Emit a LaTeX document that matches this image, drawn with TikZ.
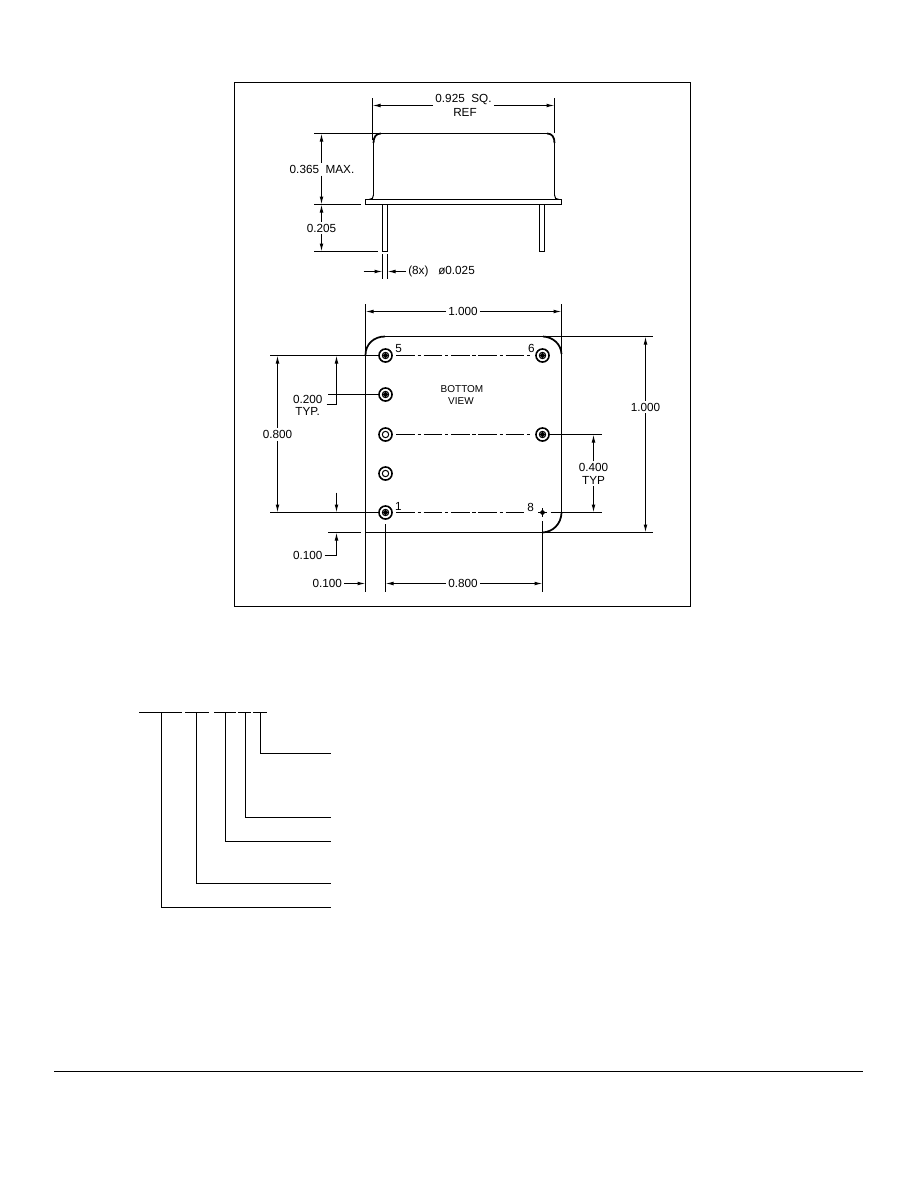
\documentclass[tikz,border=0pt]{standalone}
\usepackage{fontspec}
\setmainfont{Liberation Sans}
\usetikzlibrary{arrows.meta,shapes.geometric}
\tikzset{
  outline/.style={line width=0.75pt},
  cornerline/.style={line width=1.3pt},
  dimline/.style={line width=0.75pt,-{Latex[length=6pt,width=2.8pt]}},
  centreline/.style={line width=0.75pt,dash pattern=on 14pt off 2pt on 2.5pt off 2pt,shorten <=2.5pt,shorten >=2.5pt},
  dimtext/.style={inner sep=1.5pt,font=\fontsize{8.8}{10}\selectfont},
  viewtext/.style={inner sep=1.5pt,font=\fontsize{7.5}{9}\selectfont},
  pinring/.style={circle,draw,line width=1.2pt,inner sep=0pt,minimum size=9.8pt},
  pinhole/.style={circle,draw,line width=0.75pt,inner sep=0pt,minimum size=4.8pt},
  pinfill/.style={diamond,fill,inner sep=0pt,minimum size=4.4pt},
}
\begin{document}
\begin{tikzpicture}[x=0.75pt,y=0.75pt,yscale=-1,xscale=1]
\useasboundingbox (0,0) rectangle (918,1188);
%Shape: Frame
\draw [outline] (234.5,82.5) rectangle (690.5,606.5);
%Shape: Rule
\draw [outline] (54,1071.5) -- (863,1071.5);

%Shape: Side view body
\draw [outline] (373.5,195) -- (373.5,143) (381,133.5) -- (547,133.5) (554.5,143) -- (554.5,195);
\draw [cornerline] (373.5,143) .. controls (373.5,137) and (376,133.5) .. (381,133.5);
\draw [cornerline] (547,133.5) .. controls (552,133.5) and (554.5,137) .. (554.5,143);
\draw [outline] (373.5,195) .. controls (373.5,198) and (372,199.5) .. (369,199.5);
\draw [outline] (554.5,195) .. controls (554.5,198) and (556,199.5) .. (559,199.5);
\draw [outline] (365.5,199.5) rectangle (561.5,204.5);
\draw [outline] (382.5,204.5) rectangle (387.5,251.5);
\draw [outline] (539.5,204.5) rectangle (544.5,251.5);

%Shape: Side view extension lines
\draw [outline] (372.5,98) -- (372.5,140);
\draw [outline] (554.5,98) -- (554.5,133);
\draw [outline] (314,133.5) -- (381,133.5);
\draw [outline] (314,204.5) -- (361,204.5);
\draw [outline] (314,251.5) -- (378,251.5);
\draw [outline] (382.5,254) -- (382.5,279);
\draw [outline] (387.5,254) -- (387.5,279);

% Text Node
\node [dimtext] (d925) at (463.5,100) {0.925\ \ SQ.};
\node [dimtext] (d925b) at (465,112) {REF};
\node [dimtext] (d365) at (322,169.3) {0.365\ \ MAX.};
\node [dimtext] (d205) at (321.5,228) {0.205};
\node [dimtext,anchor=west] (d025) at (406,271) {(8x)\ \ \ ø0.025};
\coordinate (a925l) at (372.5,105.5);
\coordinate (a925r) at (554.5,105.5);
\coordinate (a365t) at (321.5,133.5);
\coordinate (a365b) at (321.5,204.5);
\coordinate (a205t) at (321.5,204.5);
\coordinate (a205b) at (321.5,251.5);
\coordinate (a025l) at (363.5,271.5);
\coordinate (a025m) at (382.5,271.5);
\coordinate (a025r) at (387.5,271.5);
\draw [dimline] (d925.west |- a925l) -- (a925l);
\draw [dimline] (d925.east |- a925r) -- (a925r);
\draw [dimline] (d365.north -| a365t) -- (a365t);
\draw [dimline] (d365.south -| a365b) -- (a365b);
\draw [dimline] (d205.north -| a205t) -- (a205t);
\draw [dimline] (d205.south -| a205b) -- (a205b);
\draw [dimline] (a025l) -- (a025m);
\draw [dimline] (d025.west |- a025r) -- (a025r);

%Shape: Bottom view body
\draw [outline] (385,336.5) -- (543,336.5) (561.5,353) -- (561.5,513) (542.5,532.5) -- (365.5,532.5) (365.5,532.5) -- (365.5,355);
\draw [cornerline] (365.5,355) .. controls (365.5,344) and (374,336.5) .. (385,336.5);
\draw [cornerline] (543,336.5) .. controls (553,337) and (561,344) .. (561.5,354);
\draw [cornerline] (561.5,513) .. controls (561,524) and (553,532) .. (542.5,532.5);

%Shape: Pins
\node [pinring] (p5) at (385.5,355.5) {};
\node [pinhole] (h5) at (p5) {};
\node [pinfill] (f5) at (p5) {};
\node [pinring] (p4) at (385.5,394.5) {};
\node [pinhole] (h4) at (p4) {};
\node [pinfill] (f4) at (p4) {};
\node [pinring] (p3) at (385.5,434.5) {};
\node [pinhole] (h3) at (p3) {};
\node [pinring] (p2) at (385.5,473.5) {};
\node [pinhole] (h2) at (p2) {};
\node [pinring] (p1) at (385.5,512.5) {};
\node [pinhole] (h1) at (p1) {};
\node [pinfill] (f1) at (p1) {};
\node [pinring] (p6) at (542.5,355.5) {};
\node [pinhole] (h6) at (p6) {};
\node [pinfill] (f6) at (p6) {};
\node [pinring] (p7) at (542.5,434.5) {};
\node [pinhole] (h7) at (p7) {};
\node [pinfill] (f7) at (p7) {};
\node [pinfill] (p8) at (542.5,512.5) {};
\draw [outline] (542.5,508) -- (542.5,517) (538,512.5) -- (547,512.5);

% Text Node
\node [dimtext] (n5) at (398.7,348.3) {5};
\node [dimtext] (n6) at (531.3,348.3) {6};
\node [dimtext] (n1) at (398.3,506.7) {1};
\node [dimtext] (n8) at (530.7,507) {8};
\node [viewtext] (bot) at (462,389) {BOTTOM};
\node [viewtext] (vw) at (461,401) {VIEW};

%Shape: Centre lines
\coordinate (c8) at (528,512.5);
\draw [centreline] (p5) -- (p6);
\draw [centreline] (p3) -- (p7);
\draw [centreline] (p1) -- (c8);

%Shape: Bottom view extension lines
\draw [outline] (365.5,304) -- (365.5,592);
\draw [outline] (561.5,304) -- (561.5,353);
\draw [outline] (543,336.5) -- (652.5,336.5);
\draw [outline] (542.5,532.5) -- (652.5,532.5);
\draw [outline] (328,532.5) -- (361,532.5);
\draw [outline] (270,355.5) -- (p5);
\draw [outline] (270,512.5) -- (p1);
\draw [outline] (p7) -- (601.5,434.5);
\draw [outline] (550.5,512.5) -- (601.5,512.5);
\draw [outline] (385.5,524) -- (385.5,592);
\draw [outline] (542.5,521) -- (542.5,592);

% Text Node
\node [dimtext] (d1000h) at (463,311) {1.000};
\node [dimtext] (d1000v) at (645.5,407) {1.000};
\node [dimtext] (d800v) at (277.5,434.5) {0.800};
\node [dimtext] (d400) at (593.5,467.7) {0.400};
\node [dimtext] (d400b) at (593.5,480) {TYP};
\node [dimtext] (d200) at (307.7,399) {0.200};
\node [dimtext] (d200b) at (307.7,411.7) {TYP.};
\node [dimtext] (d100v) at (307.7,555) {0.100};
\node [dimtext] (d100h) at (327.3,583.5) {0.100};
\node [dimtext] (d800h) at (463,583.5) {0.800};
\coordinate (a1000l) at (365.5,311.5);
\coordinate (a1000r) at (561.5,311.5);
\coordinate (a1000t) at (645.5,336.5);
\coordinate (a1000b) at (645.5,532.5);
\coordinate (a800t) at (277.5,355.5);
\coordinate (a800b) at (277.5,512.5);
\coordinate (a400t) at (593.5,434.5);
\coordinate (a400b) at (593.5,512.5);
\coordinate (a200t) at (336.5,355.5);
\coordinate (a200b) at (336.5,404.5);
\coordinate (a200e) at (326.5,404.5);
\coordinate (a200l) at (328,394.5);
\coordinate (a100s) at (336.5,492.5);
\coordinate (a100d) at (336.5,512.5);
\coordinate (a100u) at (336.5,532.5);
\coordinate (a100c) at (336.5,555.5);
\coordinate (a100l) at (365.5,583.5);
\coordinate (a800l) at (385.5,583.5);
\coordinate (a800r) at (542.5,583.5);
\draw [dimline] (d1000h.west |- a1000l) -- (a1000l);
\draw [dimline] (d1000h.east |- a1000r) -- (a1000r);
\draw [dimline] (d1000v) -- (a1000t);
\draw [dimline] (d1000v) -- (a1000b);
\draw [dimline] (d800v) -- (a800t);
\draw [dimline] (d800v) -- (a800b);
\draw [dimline] (d400) -- (a400t);
\draw [dimline] (d400b) -- (a400b);
\draw [dimline] (a200b) -- (a200t);
\draw [outline] (a200e) -- (a200b);
\draw [outline] (a200l) -- (p4);
\draw [dimline] (a100s) -- (a100d);
\draw [dimline] (a100c) -- (a100u);
\draw [outline] (d100v.east |- a100c) -- (a100c);
\draw [dimline] (d100h.east |- a100l) -- (a100l);
\draw [dimline] (d800h.west |- a800l) -- (a800l);
\draw [dimline] (d800h.east |- a800r) -- (a800r);

%Shape: Ordering code lines
\coordinate (c1) at (331,907.5);
\coordinate (c2) at (331,883.5);
\coordinate (c3) at (331,841.5);
\coordinate (c4) at (331,817.5);
\coordinate (c5) at (331,753.5);
\draw [outline] (139,712.5) -- (182,712.5);
\draw [outline] (185,712.5) -- (209,712.5);
\draw [outline] (214,712.5) -- (236,712.5);
\draw [outline] (238,712.5) -- (251,712.5);
\draw [outline] (253,712.5) -- (267,712.5);
\draw [outline] (161.5,712.5) |- (c1);
\draw [outline] (196.5,712.5) |- (c2);
\draw [outline] (225.5,712.5) |- (c3);
\draw [outline] (245.5,712.5) |- (c4);
\draw [outline] (260.5,712.5) |- (c5);
\end{tikzpicture}
\end{document}
